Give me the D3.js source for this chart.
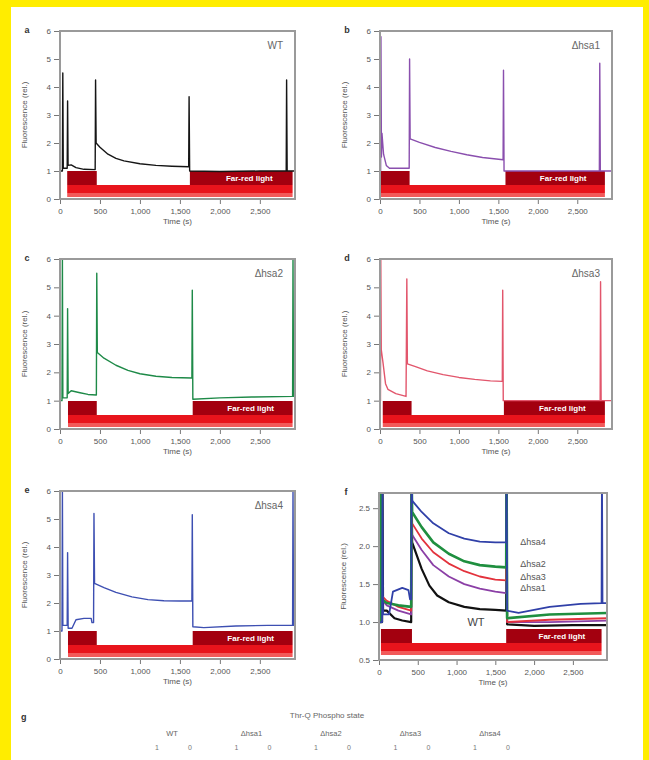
<!DOCTYPE html>
<html>
<head>
<meta charset="utf-8">
<script src="https://cdn.jsdelivr.net/npm/d3@7"></script>
<style>
  body { margin: 0; background: #ffed00; }
  svg { display: block; }
  text { font-family: "Liberation Sans", Arial, sans-serif; }
</style>
</head>
<body>
<div id="chart"></div>
<script>
// data (time in s, fluorescence rel.)
var timeTicks = [0, 500, 1000, 1500, 2000, 2500];
var yTicksFull = [0, 1, 2, 3, 4, 5, 6];
var yTicksZoom = [0.5, 1.0, 1.5, 2.0, 2.5];
var strainNames = ["WT", "Δhsa1", "Δhsa2", "Δhsa3", "Δhsa4"];
var strainColors = ["#151515", "#8a4fae", "#1e8a48", "#e2566c", "#3d4fb2"];
var combinedColors = ["#111111", "#8b3fa6", "#1f8f3f", "#e3323c", "#3040a8"];

var traceWT = [[0,1.0],[30,1.0],[35,4.5],[41,1.1],[90,1.1],[95,3.5],[101,1.2],[140,1.22],[200,1.12],[300,1.06],[440,1.05],
  [445,4.25],[452,2.0],[500,1.85],[600,1.6],[700,1.45],[800,1.36],[1000,1.26],[1200,1.2],[1400,1.17],[1610,1.15],
  [1615,3.65],[1622,1.0],[2000,0.98],[2500,1.0],[2830,1.0],[2835,4.25],[2842,1.0],[2940,1.0]];
var traceHsa1 = [[0,1.0],[8,1.0],[12,5.8],[18,1.5],[25,2.35],[45,1.6],[80,1.2],[120,1.1],[370,1.1],
  [375,5.0],[382,2.15],[500,2.02],[700,1.84],[900,1.7],[1100,1.58],[1300,1.48],[1560,1.4],
  [1565,4.6],[1572,1.0],[2780,1.0],[2785,4.85],[2792,1.0],[2940,1.0]];
var traceHsa2 = [[0,1.0],[25,1.0],[30,6.0],[36,1.1],[90,1.1],[95,4.25],[102,1.25],[140,1.35],[250,1.28],[350,1.22],[455,1.2],
  [460,5.5],[467,2.7],[550,2.5],[700,2.25],[850,2.07],[1000,1.95],[1200,1.86],[1400,1.82],[1650,1.8],
  [1655,4.9],[1662,1.05],[2000,1.1],[2400,1.13],[2910,1.15],[2915,6.0],[2922,1.15],[2940,1.15]];
var traceHsa3 = [[0,1.0],[6,1.0],[10,6.0],[16,2.8],[40,2.3],[70,1.6],[100,1.4],[200,1.25],[330,1.15],
  [340,5.3],[347,2.3],[450,2.2],[600,2.05],[800,1.92],[1000,1.82],[1200,1.75],[1400,1.7],[1550,1.68],
  [1555,4.9],[1562,1.0],[2790,1.0],[2795,5.2],[2802,1.0],[2940,1.0]];
var traceHsa4 = [[0,1.0],[25,1.0],[30,6.0],[36,1.2],[90,1.2],[95,3.8],[102,1.1],[150,1.1],[200,1.4],[300,1.45],[390,1.45],[400,1.3],[420,1.3],
  [425,5.2],[432,2.7],[550,2.55],[700,2.38],[900,2.22],[1100,2.12],[1300,2.08],[1500,2.07],[1650,2.07],
  [1655,5.15],[1662,1.15],[1800,1.12],[2200,1.18],[2600,1.2],[2910,1.2],[2915,6.0],[2922,1.2],[2940,1.2]];

// panel f (overlay, zoomed)
var fWT = [[0,1.0],[40,1.0],[45,3],[52,1.15],[100,1.15],[200,1.05],[300,1.02],[415,1.0],
  [420,3],[427,2.05],[550,1.7],[650,1.48],[750,1.35],[900,1.26],[1100,1.2],[1300,1.17],[1500,1.16],[1640,1.15],
  [1645,3],[1652,0.97],[2000,0.95],[2500,0.96],[2940,0.96]];
var fHsa1 = [[0,1.0],[20,1.0],[25,3],[32,1.3],[100,1.22],[250,1.15],[415,1.1],
  [420,3],[427,2.15],[550,1.95],[700,1.75],[900,1.6],[1100,1.5],[1300,1.44],[1500,1.4],[1640,1.38],
  [1645,3],[1652,1.0],[2200,1.0],[2940,1.02]];
var fHsa2 = [[0,1.0],[20,1.0],[25,3],[32,1.3],[100,1.25],[250,1.22],[415,1.2],
  [420,3],[427,2.45],[550,2.25],[700,2.05],[900,1.9],[1100,1.8],[1300,1.75],[1500,1.73],[1640,1.72],
  [1645,3],[1652,1.05],[2200,1.1],[2940,1.12]];
var fHsa3 = [[0,1.0],[20,1.0],[25,3],[32,1.35],[100,1.28],[250,1.2],[415,1.15],
  [420,3],[427,2.3],[550,2.1],[700,1.92],[900,1.77],[1100,1.67],[1300,1.6],[1500,1.56],[1640,1.55],
  [1645,3],[1652,1.0],[2200,1.03],[2940,1.05]];
var fHsa4 = [[0,1.0],[40,1.0],[45,3],[52,1.1],[130,1.1],[180,1.4],[300,1.45],[380,1.42],[400,1.3],[415,1.3],
  [420,3],[427,2.6],[550,2.45],[700,2.3],[900,2.17],[1100,2.1],[1300,2.06],[1500,2.05],[1640,2.05],
  [1645,3],[1652,1.15],[1800,1.12],[2200,1.2],[2600,1.24],[2870,1.25],[2875,3],[2882,1.25],[2940,1.25]];

// light periods [start, end] in s
var farRedA = [[90,460],[1625,2910]], redA = [90,2910];
var farRedB = [[12,375],[1590,2850]], redB = [12,2850];
var farRedC = [[100,460],[1660,2910]], redC = [100,2910];
var farRedD = [[35,400],[1570,2850]], redD = [35,2850];
var farRedE = [[100,460],[1660,2910]], redE = [100,2910];
var farRedF = [[25,425],[1640,2870]], redF = [25,2870];

// table g
var tableTitle = "Thr-Q Phospho state";
var tableCols = ["WT", "Δhsa1", "Δhsa2", "Δhsa3", "Δhsa4"];
var tableSub = ["1", "0"];

var T_MAX = 2940;
var W = 649, H = 760;

var svg = d3.select("#chart").append("svg").attr("width", W).attr("height", H);
svg.append("rect").attr("width", W).attr("height", H).attr("fill", "#ffed00");
svg.append("rect").attr("x", 11).attr("y", 7).attr("width", 632).attr("height", H - 7).attr("fill", "#fff");

var panels = [
  {id:"a", left:60, right:295, top:31, bottom:199, yd:[0,6], ticks:yTicksFull, fmt:d3.format("d"),
    traces:[{d:traceWT, c:strainColors[0]}], fr:farRedA, red:redA, label:strainNames[0]},
  {id:"b", left:380, right:612, top:31, bottom:199, yd:[0,6], ticks:yTicksFull, fmt:d3.format("d"),
    traces:[{d:traceHsa1, c:strainColors[1]}], fr:farRedB, red:redB, label:strainNames[1]},
  {id:"c", left:60, right:295, top:259, bottom:429, yd:[0,6], ticks:yTicksFull, fmt:d3.format("d"),
    traces:[{d:traceHsa2, c:strainColors[2]}], fr:farRedC, red:redC, label:strainNames[2]},
  {id:"d", left:380, right:612, top:259, bottom:429, yd:[0,6], ticks:yTicksFull, fmt:d3.format("d"),
    traces:[{d:traceHsa3, c:strainColors[3]}], fr:farRedD, red:redD, label:strainNames[3]},
  {id:"e", left:60, right:295, top:491, bottom:659, yd:[0,6], ticks:yTicksFull, fmt:d3.format("d"),
    traces:[{d:traceHsa4, c:strainColors[4]}], fr:farRedE, red:redE, label:strainNames[4]},
  {id:"f", left:379, right:607, top:493, bottom:660, yd:[0.5,2.7], ticks:yTicksZoom, fmt:d3.format(".1f"),
    traces:[{d:fWT, c:combinedColors[0], w:2.2},{d:fHsa1, c:combinedColors[1], w:1.8},{d:fHsa3, c:combinedColors[3], w:1.8},
            {d:fHsa2, c:combinedColors[2], w:2.6},{d:fHsa4, c:combinedColors[4], w:1.8}],
    fr:farRedF, red:redF, label:null}
];

panels.forEach(drawPanel);

function drawPanel(p) {
  var g = svg.append("g");
  var x = d3.scaleLinear().domain([0, T_MAX]).range([p.left, p.right]);
  var y = d3.scaleLinear().domain(p.yd).range([p.bottom, p.top]);

  g.append("clipPath").attr("id", "clip-" + p.id)
    .append("rect").attr("x", p.left).attr("y", p.top).attr("width", p.right - p.left).attr("height", p.bottom - p.top);

  // light bars (drawn at fixed pixel offset from the bottom of the frame)
  var off = p.id == "f" ? 3 : 0;
  g.selectAll(".fr").data(p.fr).enter().append("rect")
    .attr("x", d => x(d[0])).attr("width", d => x(d[1]) - x(d[0]))
    .attr("y", p.bottom - 28 - off).attr("height", 14)
    .attr("fill", "#a3000f");
  g.append("rect").attr("x", x(p.red[0])).attr("width", x(p.red[1]) - x(p.red[0]))
    .attr("y", p.bottom - 14 - off).attr("height", 8).attr("fill", "#e8141c");
  g.append("rect").attr("x", x(p.red[0])).attr("width", x(p.red[1]) - x(p.red[0]))
    .attr("y", p.bottom - 6 - off).attr("height", 4).attr("fill", "#f25a5a");
  var last = p.fr[p.fr.length - 1];
  g.append("text").attr("x", x((last[0] + last[1]) / 2) + 8).attr("y", p.bottom - 18 - off)
    .attr("text-anchor", "middle").attr("font-size", "8px").attr("font-weight", "bold")
    .attr("fill", "#fff").text("Far-red light");

  // traces
  var line = d3.line().x(d => x(d[0])).y(d => y(d[1]));
  g.append("g").attr("clip-path", "url(#clip-" + p.id + ")")
    .selectAll("path").data(p.traces).enter().append("path")
    .attr("d", d => line(d.d)).attr("fill", "none")
    .attr("stroke", d => d.c).attr("stroke-width", d => d.w || 1.4)
    .attr("stroke-linejoin", "round");

  // frame
  g.append("rect").attr("x", p.left).attr("y", p.top).attr("width", p.right - p.left).attr("height", p.bottom - p.top)
    .attr("fill", "none").attr("stroke", "#9a9a9a").attr("stroke-width", 2);

  // axes
  var ya = g.append("g").attr("transform", "translate(" + (p.left - 1) + ",0)")
    .call(d3.axisLeft(y).tickValues(p.ticks).tickFormat(p.fmt).tickSize(5).tickPadding(3));
  var xa = g.append("g").attr("transform", "translate(0," + (p.bottom + 1) + ")")
    .call(d3.axisBottom(x).tickValues(timeTicks).tickFormat(d3.format(",")).tickSize(4).tickPadding(4));
  [ya, xa].forEach(function(a) {
    a.select(".domain").remove();
    a.selectAll(".tick line").attr("stroke", "#777");
    a.selectAll(".tick text").attr("fill", "#555").attr("font-size", "8px")
      .style("font-family", "Liberation Sans, Arial, sans-serif");
  });

  // titles
  g.append("text").attr("x", (p.left + p.right) / 2).attr("y", p.bottom + 25)
    .attr("text-anchor", "middle").attr("font-size", "8px").attr("fill", "#555").text("Time (s)");
  var ym = (p.top + p.bottom) / 2;
  g.append("text").attr("transform", "translate(" + (p.left - 33) + "," + ym + ") rotate(-90)")
    .attr("text-anchor", "middle").attr("font-size", "8px").attr("fill", "#555").text("Fluorescence (rel.)");
  g.append("text").attr("x", p.left - 33).attr("y", p.top + 2)
    .attr("text-anchor", "middle").attr("font-size", "9px").attr("font-weight", "bold").attr("fill", "#333").text(p.id);

  if (p.label) {
    g.append("text").attr("x", p.right - 12).attr("y", p.top + 18)
      .attr("text-anchor", "end").attr("font-size", "10px").attr("fill", "#666").text(p.label);
  }

  if (p.id == "f") {
    var endT = 1640;
    var lbls = [
      {t: strainNames[4], v: fHsa4[fHsa4.length - 11][1]},
      {t: strainNames[2], v: 1.76},
      {t: strainNames[3], v: 1.6},
      {t: strainNames[1], v: 1.45}
    ];
    g.selectAll(".fl").data(lbls).enter().append("text")
      .attr("x", x(endT) + 14).attr("y", d => y(d.v) + 3)
      .attr("font-size", "9px").attr("fill", "#555").text(d => d.t);
    g.append("text").attr("x", x(1250)).attr("y", y(1.0) + 4)
      .attr("text-anchor", "middle").attr("font-size", "11px").attr("fill", "#444").text(strainNames[0]);
  }
}

// section g
var gx = d3.scalePoint().domain(tableCols).range([172, 490]);
svg.append("text").attr("x", 21).attr("y", 720).attr("font-size", "9px").attr("font-weight", "bold")
  .attr("fill", "#333").text("g");
svg.append("text").attr("x", 327).attr("y", 718).attr("text-anchor", "middle")
  .attr("font-size", "8px").attr("fill", "#666").text(tableTitle);
svg.selectAll(".tc").data(tableCols).enter().append("text")
  .attr("x", d => gx(d)).attr("y", 736).attr("text-anchor", "middle")
  .attr("font-size", "7.5px").attr("fill", "#666").text(d => d);
tableCols.forEach(function(c) {
  svg.selectAll(null).data(tableSub).enter().append("text")
    .attr("x", (d, i) => gx(c) + (i == 0 ? -15 : 18)).attr("y", 750)
    .attr("text-anchor", "middle").attr("font-size", "7px").attr("fill", "#777").text(d => d);
});
</script>
</body>
</html>
